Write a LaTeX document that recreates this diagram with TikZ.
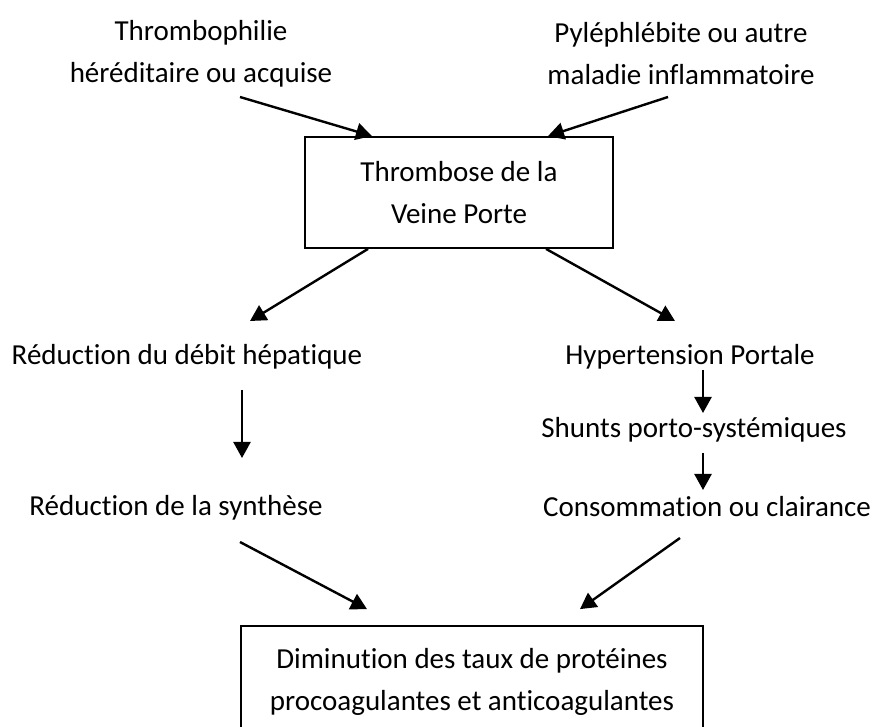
\documentclass[tikz,border=0pt]{standalone}
\usepackage{fontspec}
\setmainfont{Carlito}[Ligatures=NoCommon]
\usetikzlibrary{calc,arrows.meta}

\tikzset{
  texte/.style={align=center, inner sep=0pt, font=\fontsize{14.5}{21}\selectfont},
  boite/.style={texte, draw, line width=0.9pt},
  fleche/.style={line width=1.2pt, -{Triangle[length=8pt,width=8.5pt]}}
}

\begin{document}
\begin{tikzpicture}[x=0.5pt, y=-0.5pt]
\useasboundingbox (0,0) rectangle (879,727);
\clip (0,0) rectangle (879,727);

% causes
\node[texte] (thrombo) at (201,54) {Thrombophilie\\héréditaire ou acquise};
\node[texte] (pyle) at (681,54) {Pyléphlébite ou autre\\maladie inflammatoire};

% thrombose
\node[boite, minimum width=154pt, minimum height=55.5pt] (tvp) at (459,192.5) {Thrombose de la\\Veine Porte};

% branche gauche
\node[texte] (redflux) at (187,357) {Réduction du débit hépatique};
\node[texte] (redsynth) at (176,508) {Réduction de la synthèse};

% branche droite
\node[texte] (htp) at (690,357) {Hypertension Portale};
\node[texte] (shunts) at (694,430) {Shunts porto-systémiques};
\node[texte] (conso) at (707,507) {Consommation ou clairance};

% resultat
\node[boite, minimum width=231pt, minimum height=55.5pt] (dimin) at (472,681.5) {Diminution des taux de protéines\\procoagulantes et anticoagulantes};

% fleches
\draw[fleche] ($(thrombo)+(39,43)$) -- ($(tvp.north)+(-87,0)$);
\draw[fleche] ($(pyle)+(-13,43)$) -- ($(tvp.north)+(89,0)$);

\draw[fleche] ($(tvp.south)+(-91,0)$) -- ($(redflux)+(63,-36)$);
\draw[fleche] ($(tvp.south)+(87,0)$) -- ($(htp)+(-15,-36)$);

\draw[fleche] ($(redflux)+(55,33)$) -- ($(redsynth)+(66,-50)$);
\draw[fleche] ($(htp)+(13,13)$) -- ($(shunts)+(9,-17)$);
\draw[fleche] ($(shunts)+(9,23)$) -- ($(conso)+(-4,-17)$);

\draw[fleche] ($(redsynth)+(64,34)$) -- ($(dimin.north)+(-105,-16)$);
\draw[fleche] ($(conso)+(-27,31)$) -- ($(dimin.north)+(108,-16)$);

\end{tikzpicture}
\end{document}
